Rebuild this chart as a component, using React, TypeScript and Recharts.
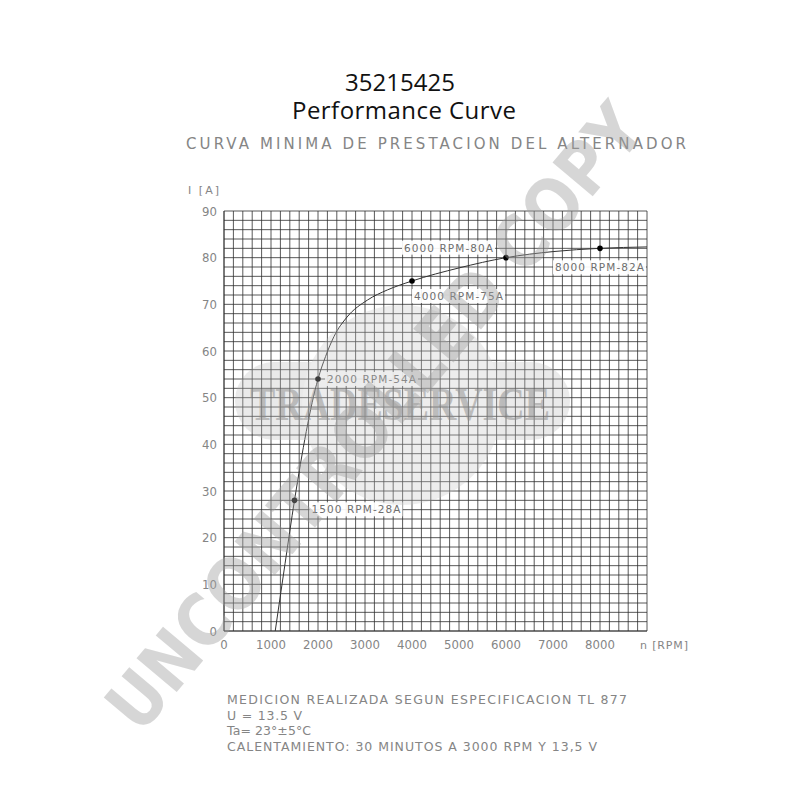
import React from "react";
import {
  ComposedChart,
  Line,
  Scatter,
  XAxis,
  YAxis,
  CartesianGrid,
} from "recharts";

// curve (rpm -> amps)
const rpm = [1090, 1300, 1500, 2000, 2160, 2340, 2620, 3050, 3480, 4000, 5000, 6000, 7000, 8000, 9000];
const amps = [0, 14.5, 28, 54, 58.8, 63.1, 67.3, 70.9, 73.1, 75, 77.8, 80, 81.3, 82, 82.3];

// measured points with labels
const markRpm = [1500, 2000, 4000, 6000, 8000];
const markAmps = [28, 54, 75, 80, 82];
const markLabels = ["1500 RPM-28A", "2000 RPM-54A", "4000 RPM-75A", "6000 RPM-80A", "8000 RPM-82A"];

const xTicks = [0, 1000, 2000, 3000, 4000, 5000, 6000, 7000, 8000];
const yTicks = [0, 10, 20, 30, 40, 50, 60, 70, 80, 90];

const notes = [
  "MEDICION REALIZADA SEGUN ESPECIFICACION TL 877",
  "U = 13.5 V",
  "Ta= 23°±5°C",
  "CALENTAMIENTO: 30 MINUTOS A 3000 RPM Y 13,5 V",
];
const noteWidths = [400, 75, 84, 370];

const curveData = rpm.map((r, i) => ({ rpm: r, current: amps[i] }));
const markData = markRpm.map((r, i) => ({ rpm: r, current: markAmps[i], label: markLabels[i] }));

// fine grid: 200 rpm / 2 A -> 45 x 45 cells
const CELLS = 45;
const gridSteps = Array.from({ length: CELLS + 1 }, (_, i) => i);
const fallbackOffset = { left: 224, top: 211, width: 423, height: 420 };

// label box offsets relative to each dot (start x, centre y)
const labelOffsets = [
  { dx: 17, dy: 9 },
  { dx: 9, dy: 0 },
  { dx: 2, dy: 15 },
  { dx: -102, dy: -10 },
  { dx: -45, dy: 19 },
];

const cad = "'DejaVu Sans', sans-serif";
const narrow = "'Liberation Sans Narrow', 'DejaVu Sans Condensed', sans-serif";
const grey = "#858585";

const MarkShape = (props: any) => {
  const { cx, cy, index, payload } = props;
  const off = labelOffsets[index] || { dx: 8, dy: 0 };
  const w = 89;
  return (
    <g>
      <rect x={cx + off.dx - 2} y={cy + off.dy - 7} width={w + 4} height={14} fill="#fff" fillOpacity={0.92} />
      <text
        x={cx + off.dx}
        y={cy + off.dy + 4}
        fontFamily={cad}
        fontSize={10.5}
        fill="#6e6e6e"
        textLength={w}
        lengthAdjust="spacing"
      >
        {payload.label}
      </text>
      <circle cx={cx} cy={cy} r={2.8} fill="#000" />
    </g>
  );
};

export default function App() {
  return (
    <div style={{ position: "absolute", left: 0, top: 0, width: 800, height: 800, background: "#fff" }}>
      <ComposedChart
        width={800}
        height={800}
        data={curveData}
        margin={{ top: 211, right: 153, bottom: 139, left: 184 }}
      >
        <CartesianGrid
          stroke="#2e2e2e"
          strokeWidth={0.8}
          verticalCoordinatesGenerator={(p: any) => {
            const o = (p && p.offset) || fallbackOffset;
            return gridSteps.map((i) => o.left + (i / CELLS) * o.width);
          }}
          horizontalCoordinatesGenerator={(p: any) => {
            const o = (p && p.offset) || fallbackOffset;
            return gridSteps.map((i) => o.top + (i / CELLS) * o.height);
          }}
        />
        <XAxis
          dataKey="rpm"
          type="number"
          domain={[0, 9000]}
          ticks={xTicks}
          axisLine={{ stroke: "#2e2e2e", strokeWidth: 0.8 }}
          tickLine={false}
          tickSize={0}
          tickMargin={9}
          height={30}
          tick={{ fill: grey, fontSize: 13, fontFamily: narrow }}
          allowDataOverflow
        />
        <YAxis
          type="number"
          domain={[0, 90]}
          ticks={yTicks}
          axisLine={{ stroke: "#2e2e2e", strokeWidth: 0.8 }}
          tickLine={false}
          tickSize={0}
          tickMargin={7}
          width={40}
          tick={{ fill: grey, fontSize: 13, fontFamily: narrow }}
          allowDataOverflow
        />
        <Line
          type="monotone"
          dataKey="current"
          stroke="#333"
          strokeWidth={1}
          dot={false}
          isAnimationActive={false}
        />
        <Scatter data={markData} dataKey="current" shape={MarkShape} isAnimationActive={false} />
      </ComposedChart>

      <svg
        width={800}
        height={800}
        style={{ position: "absolute", left: 0, top: 0, pointerEvents: "none" }}
      >
        <text x={400} y={91} textAnchor="middle" fontFamily="'Open Sans', sans-serif" fontSize={24} fill="#111">
          35215425
        </text>
        <text x={404} y={119} textAnchor="middle" fontFamily="'Open Sans', sans-serif" fontSize={24} fill="#111" textLength={224} lengthAdjust="spacing">
          Performance Curve
        </text>
        <text x={186} y={149} fontFamily={cad} fontSize={15} fill={grey} textLength={500} lengthAdjust="spacing">
          CURVA MINIMA DE PRESTACION DEL ALTERNADOR
        </text>
        <text x={188} y={194} fontFamily={cad} fontSize={11} fill={grey} textLength={31} lengthAdjust="spacing">
          I [A]
        </text>
        <text x={640} y={649} fontFamily={cad} fontSize={11} fill={grey} textLength={48} lengthAdjust="spacing">
          n [RPM]
        </text>
        {notes.map((t, i) => (
          <text
            key={t}
            x={227}
            y={704 + i * 15.6}
            fontFamily={cad}
            fontSize={12.5}
            fill={grey}
            textLength={noteWidths[i]}
            lengthAdjust="spacing"
          >
            {t}
          </text>
        ))}

        {/* watermark */}
        <g opacity={0.3}>
          <rect x={235} y={362} width={335} height={78} rx={39} fill="#b8b8b8" />
          <circle cx={402} cy={405} r={100} fill="#c4c4c4" />
        </g>
        <text
          x={250}
          y={420}
          fontFamily="'Liberation Serif', serif"
          fontWeight="bold"
          fontSize={46}
          fill="#8c8c8c"
          opacity={0.5}
          textLength={300}
          lengthAdjust="spacingAndGlyphs"
        >
          TRADESERVICE
        </text>
        <text
          x={375}
          y={442}
          textAnchor="middle"
          fontFamily="'DejaVu Sans', sans-serif"
          fontWeight="bold"
          fontSize={72}
          fill="#a0a0a0"
          opacity={0.42}
          textLength={790}
          lengthAdjust="spacingAndGlyphs"
          transform="rotate(-50 375 417)"
        >
          UNCONTROLLED COPY
        </text>
      </svg>
    </div>
  );
}
